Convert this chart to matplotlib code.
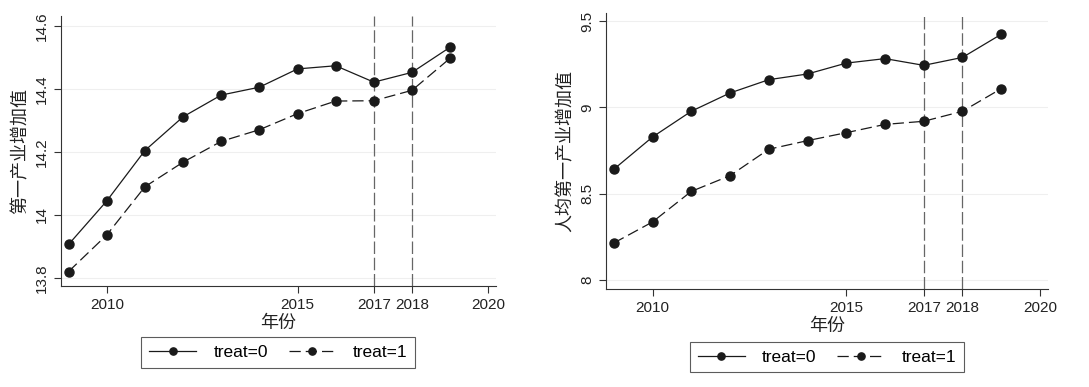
import matplotlib
matplotlib.use("Agg")
import matplotlib.pyplot as plt

plt.rcParams["font.family"] = ["Liberation Sans", "Noto Sans CJK SC"]
plt.rcParams["axes.unicode_minus"] = False

# ---- data ----
years = [2009, 2010, 2011, 2012, 2013, 2014, 2015, 2016, 2017, 2018, 2019]

# 第一产业增加值 (log)
va_treat0 = [13.906, 14.044, 14.204, 14.311, 14.380, 14.405, 14.463, 14.473, 14.421, 14.452, 14.532]
va_treat1 = [13.820, 13.936, 14.089, 14.167, 14.233, 14.270, 14.321, 14.361, 14.362, 14.395, 14.497]

# 人均第一产业增加值 (log)
pc_treat0 = [8.641, 8.828, 8.977, 9.083, 9.160, 9.193, 9.256, 9.282, 9.243, 9.289, 9.423]
pc_treat1 = [8.214, 8.336, 8.513, 8.604, 8.757, 8.807, 8.853, 8.901, 8.919, 8.977, 9.108]

policy_years = [2017, 2018]
xticks = [2010, 2015, 2017, 2018, 2020]
left_yticks = [13.8, 14.0, 14.2, 14.4, 14.6]
left_yticklabels = ["13.8", "14", "14.2", "14.4", "14.6"]
right_yticks = [8.0, 8.5, 9.0, 9.5]
right_yticklabels = ["8", "8.5", "9", "9.5"]

LINE = "#1a1a1a"


def draw_panel(ax, y0, y1, ylabel, yticks, yticklabels, ylim):
    ax.plot(years, y0, color=LINE, lw=0.9, marker="o", ms=6.5,
            label="treat=0", zorder=3)
    ax.plot(years, y1, color=LINE, lw=0.9, marker="o", ms=6.5,
            dashes=(9, 4), label="treat=1", zorder=3)
    for yr in policy_years:
        ax.axvline(yr, color="#666666", lw=0.9, dashes=(10, 3), zorder=2)

    ax.set_xlim(2008.8, 2020.2)
    ax.set_ylim(*ylim)
    ax.set_xticks(xticks)
    ax.set_yticks(yticks)
    ax.set_yticklabels(yticklabels, rotation=90, va="center")
    ax.tick_params(labelsize=11, length=5, width=0.8, color="#333333",
                   labelcolor="#222222")
    ax.grid(axis="y", color="#efefef", lw=0.8, zorder=0)
    for side in ["top", "right"]:
        ax.spines[side].set_visible(False)
    for side in ["left", "bottom"]:
        ax.spines[side].set_color("#333333")
        ax.spines[side].set_linewidth(0.8)

    ax.set_xlabel("年份", fontsize=13, color="#222222", labelpad=2)
    ax.set_ylabel(ylabel, fontsize=13, color="#222222", labelpad=4)

    leg = ax.legend(loc="center", bbox_to_anchor=(0.5, -0.245), ncol=2,
                    fontsize=12.5, frameon=True, fancybox=False,
                    handlelength=2.7, columnspacing=1.2, handletextpad=1.0,
                    borderpad=0.45, markerscale=0.8)
    leg.get_frame().set_edgecolor("#333333")
    leg.get_frame().set_linewidth(0.8)


fig = plt.figure(figsize=(10.89, 3.87), dpi=100)
ax_l = fig.add_axes([0.056, 0.261, 0.3994, 0.6977])
ax_r = fig.add_axes([0.5565, 0.2525, 0.4056, 0.7147])

draw_panel(ax_l, va_treat0, va_treat1, "第一产业增加值",
           left_yticks, left_yticklabels, (13.774, 14.631))
draw_panel(ax_r, pc_treat0, pc_treat1, "人均第一产业增加值",
           right_yticks, right_yticklabels, (7.946, 9.548))

fig.savefig("out.png", dpi=100)
